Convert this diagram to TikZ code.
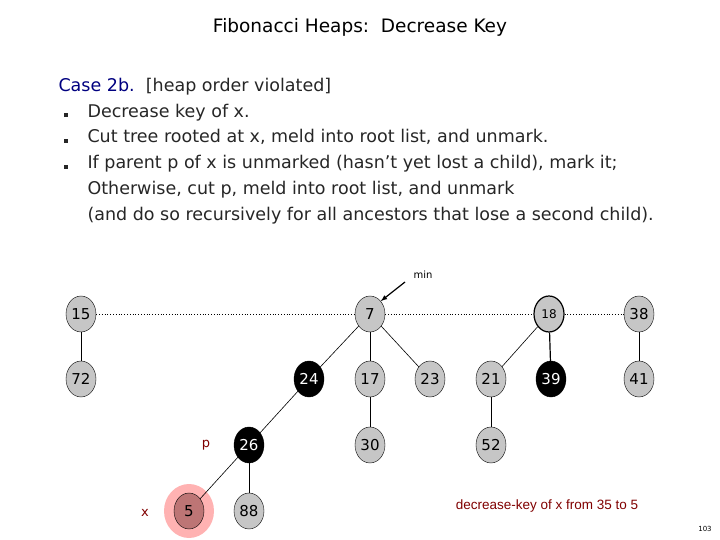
\documentclass[tikz,border=0pt]{standalone}
\usepackage{fontspec}
\setmainfont{DejaVu Sans}
\newfontfamily\arialf{Liberation Sans}
\begin{document}
\begin{tikzpicture}[x=1pt,y=-1pt,
 hn/.style={ellipse,draw,fill=gray!45,minimum width=30pt,minimum height=36pt,inner sep=0pt,font=\fontsize{15}{15}\selectfont},
 mk/.style={hn,fill=black,text=white},
 tl/.style={line width=0.6pt},
 rl/.style={dotted,line width=0.8pt},
 lab/.style={font=\fontsize{13}{13}\selectfont,text=red!50!black}]
\usetikzlibrary{shapes.geometric}
\useasboundingbox (0,0) rectangle (720,540);
\node (title) at (360,27) {\fontsize{18.5}{18.5}\selectfont Fibonacci Heaps:\ \ Decrease Key};
\node[anchor=west,align=left,font=\fontsize{17.5}{25.8}\selectfont,text=black!85] (txt) at (55,151) {%
\textcolor{blue!50!black}{Case 2b.}\ \ [heap order violated]\\
\hspace*{5pt}\rule{4pt}{4pt}\hspace{20pt}Decrease key of x.\\
\hspace*{5pt}\rule{4pt}{4pt}\hspace{20pt}Cut tree rooted at x, meld into root list, and unmark.\\
\hspace*{5pt}\rule{4pt}{4pt}\hspace{20pt}If parent p of x is unmarked (hasn't yet lost a child), mark it;\\
\hspace*{29pt}Otherwise, cut p, meld into root list, and unmark\\
\hspace*{29pt}(and do so recursively for all ancestors that lose a second child).};
\fill[red!30] (189,511) ellipse (25pt and 27pt);
\node[hn] (n15) at (81,314) {15};
\node[hn] (n7) at (370,314) {7};
\node[hn,line width=1.2pt,font=\fontsize{12}{12}\selectfont] (n18) at (549,314) {18};
\node[hn] (n38) at (639,314) {38};
\node[hn] (n72) at (81,379) {72};
\node[mk] (n24) at (309,379) {24};
\node[hn] (n17) at (370,379) {17};
\node[hn] (n23) at (430,379) {23};
\node[hn] (n21) at (491,379) {21};
\node[mk] (n39) at (551,379) {39};
\node[hn] (n41) at (639,379) {41};
\node[mk] (n26) at (249,445) {26};
\node[hn] (n30) at (370,445) {30};
\node[hn] (n52) at (491,445) {52};
\node[hn,fill=red!35!gray!80] (n5) at (189,511) {5};
\node[hn] (n88) at (249,511) {88};
\draw[rl] (n15) -- (n7); \draw[rl] (n7) -- (n18); \draw[rl] (n18) -- (n38);
\draw[tl] (n15)--(n72); \draw[tl] (n7)--(n24); \draw[tl] (n7)--(n17); \draw[tl] (n7)--(n23);
\draw[tl] (n18)--(n21); \draw[line width=1.2pt] (n18)--(n39); \draw[tl] (n38)--(n41);
\draw[tl] (n24)--(n26); \draw[tl] (n17)--(n30); \draw[tl] (n21)--(n52);
\draw[tl] (n26)--(n5); \draw[tl] (n26)--(n88);
\node[font=\fontsize{10}{10}\selectfont] (minl) at (423,275) {min};
\coordinate (mina) at (405,282);
\draw[-latex,line width=1.2pt] (mina) -- (n7.north east);
\node[lab] (pl) at (206,445) {p};
\node[lab] (xl) at (145,513) {x};
\node[lab,font=\arialf\fontsize{13.5}{13.5}\selectfont] (dk) at (547,506) {decrease-key of x from 35 to 5};
\node[font=\fontsize{7}{7}\selectfont] (pg) at (705,529) {103};
\end{tikzpicture}
\end{document}
